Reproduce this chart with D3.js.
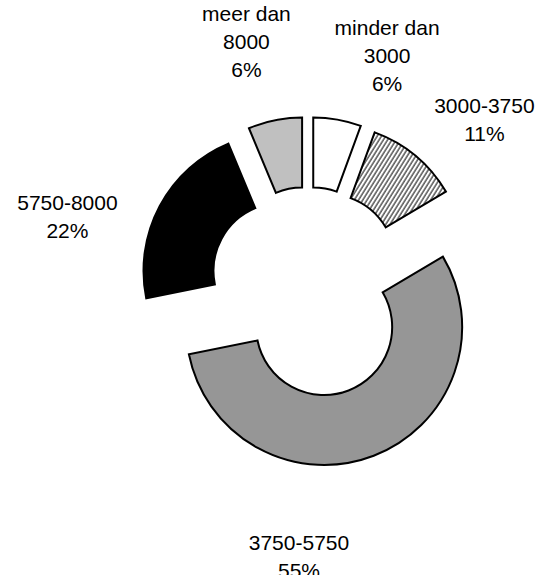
<!DOCTYPE html>
<meta charset="utf-8">
<style>

html,
body {
  margin: 0;
  overflow: hidden;
  background: #fff;
}

.slice {
  stroke: #000;
  stroke-width: 2;
  stroke-linejoin: miter;
}

.label {
  font-family: "Liberation Sans", Arial, sans-serif;
  font-size: 21px;
  fill: #000;
}

</style>
<body>
<script src="https://d3js.org/d3.v7.min.js"></script>
<script>

// data
var categories = ["minder dan 3000", "3000-3750", "3750-5750", "5750-8000", "meer dan 8000"];
var values = [5.6, 10.9, 55.4, 21.9, 6.3];

var width = 554,
  height = 575,
  cx = 308,
  cy = 285,
  innerR = 68,
  outerR = 138,
  lineH = 28;

var fills = ["#ffffff", "url(#hatch)", "#969696", "#000000", "#c0c0c0"];
// how far each slice is pulled out of the pie
var explode = [30, 30, 45, 30, 30];
// label block centre: [angle in degrees, distance from pie centre]
var labelPolar = [[19, 243], [46.8, 242], [181.9, 272], [285.8, 250], [345.8, 251]];

var total = d3.sum(values);
var pct = d3.format(".0f");

var svg = d3.select("body")
  .append("svg")
  .attr("width", width)
  .attr("height", height);

var pat = svg.append("defs")
  .append("pattern")
  .attr("id", "hatch")
  .attr("patternUnits", "userSpaceOnUse")
  .attr("width", 3.6)
  .attr("height", 3.6)
  .attr("patternTransform", "rotate(32)");
pat.append("rect")
  .attr("width", 3.6)
  .attr("height", 3.6)
  .attr("fill", "#fff");
pat.append("line")
  .attr("x1", 1).attr("y1", 0)
  .attr("x2", 1).attr("y2", 3.6)
  .attr("stroke", "#555")
  .attr("stroke-width", 1.5);

var pie = d3.pie()
  .sort(null)
  .value(function(d) { return d; });

var arc = d3.arc()
  .innerRadius(innerR)
  .outerRadius(outerR);

var arcs = pie(values);

var g = svg.append("g")
  .attr("transform", "translate(" + cx + "," + cy + ")");

g.selectAll(".slice")
  .data(arcs)
  .enter().append("path")
  .attr("class", "slice")
  .attr("d", arc)
  .attr("fill", function(d, i) { return fills[i]; })
  .attr("transform", function(d, i) {
    var a = (d.startAngle + d.endAngle) / 2;
    return "translate(" + (explode[i] * Math.sin(a)) + "," + (-explode[i] * Math.cos(a)) + ")";
  });

var labels = g.selectAll(".label")
  .data(arcs)
  .enter().append("text")
  .attr("class", "label")
  .attr("text-anchor", "middle")
  .each(function(d, i) {
    var lines = categories[i].replace(" dan ", " dan\n").split("\n");
    lines.push(pct(d.value / total * 100) + "%");
    var a = labelPolar[i][0] * Math.PI / 180,
      r = labelPolar[i][1],
      x = r * Math.sin(a),
      y = -r * Math.cos(a) - (lines.length - 1) * lineH / 2;
    var t = d3.select(this);
    lines.forEach(function(s, k) {
      t.append("tspan")
        .attr("x", x)
        .attr("y", y + k * lineH)
        .attr("dy", "0.35em")
        .text(s);
    });
  });

</script>
